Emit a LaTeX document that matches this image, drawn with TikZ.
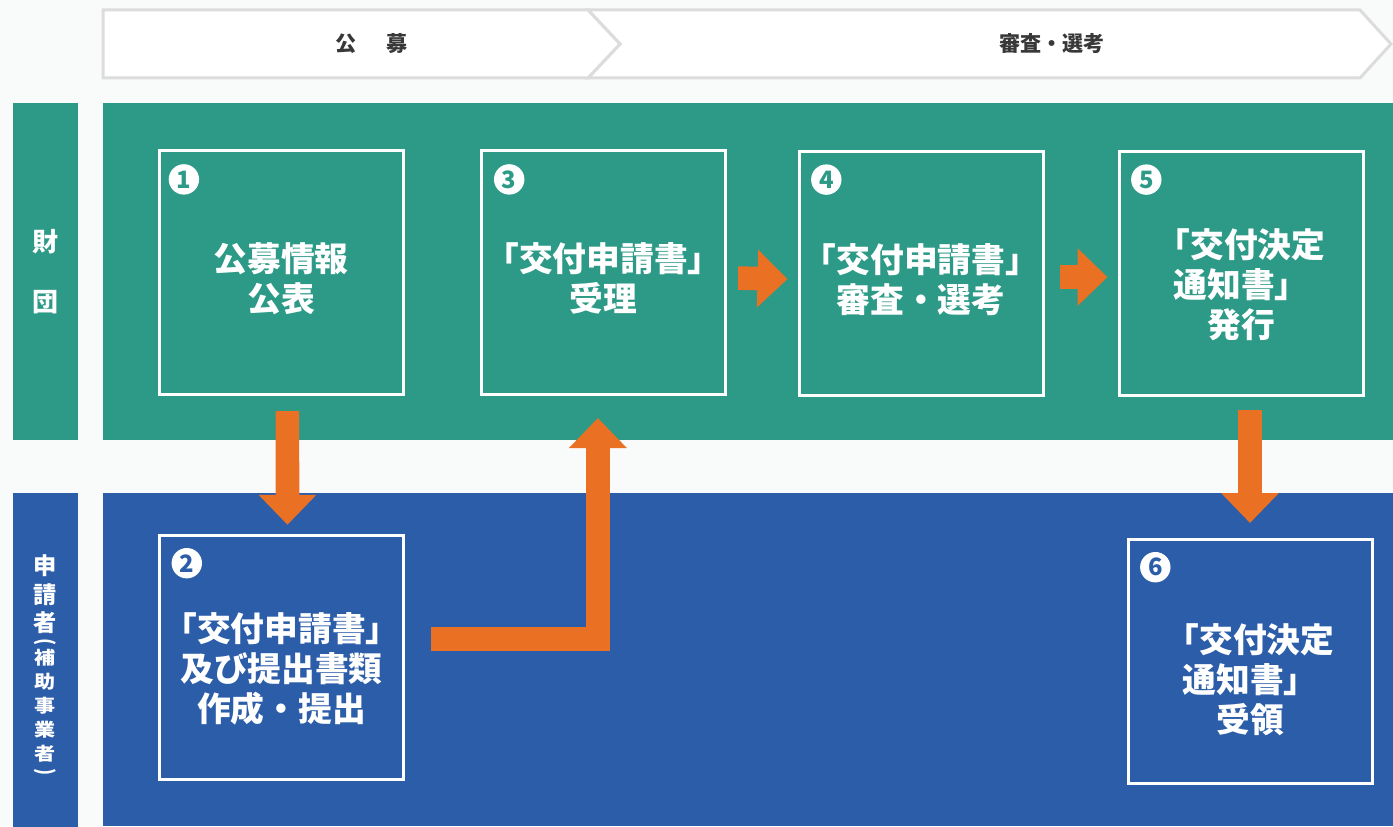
\documentclass[tikz,border=0pt]{standalone}
\usepackage{fontspec}
\newfontfamily\jp{Noto Sans CJK JP}
\usetikzlibrary{arrows.meta}
\definecolor{pagebg}{HTML}{F9FBFB}
\definecolor{zaidan}{HTML}{2C9A87}
\definecolor{shinsei}{HTML}{2C5DA9}
\definecolor{flowor}{HTML}{EA7024}
\definecolor{phasegray}{HTML}{DCDCDC}
\definecolor{phasetext}{HTML}{383838}
\tikzset{
    phaseline/.style = {
        draw=phasegray, fill=white, line width=0.75mm, line join=miter
    },
    phase/.style = {
        text=phasetext, font=\jp\bfseries\fontsize{15}{15}\selectfont, inner sep=0pt
    },
    lane/.style = {
        minimum width=16.25mm, text=white, align=center, inner sep=0pt,
        font=\jp\bfseries\fontsize{18.5}{42.7}\selectfont
    },
    lanetext/.style = {
        text=white, inner sep=0pt, font=\jp\bfseries\fontsize{16.5}{16.5}\selectfont
    },
    lanesmall/.style = {
        text=white, inner sep=0pt, yscale=0.85, font=\jp\bfseries\fontsize{15}{15}\selectfont
    },
    stepbox/.style = {
        draw=white, line width=0.75mm, minimum width=61mm, minimum height=61mm
    },
    steptext/.style = {
        text=white, align=center, inner sep=0pt,
        font=\jp\bfseries\fontsize{24}{28.5}\selectfont
    },
    stepno/.style = {
        circle, fill=white, inner sep=0pt, minimum size=7.6mm,
        font=\jp\bfseries\fontsize{17}{17}\selectfont
    },
    flow/.style = {
        draw=flowor, line width=5.9mm, -{Triangle[width=14mm,length=7.5mm]}
    },
}

\begin{document}
\begin{tikzpicture}[x=0.25mm, y=-0.25mm]
        \useasboundingbox (0,0) rectangle (1393,826);
        \fill[pagebg] (0,0) rectangle (1393,826);

        % Phase header
        \draw[phaseline] (588,10) -- (1360,10) -- (1391,44) -- (1360,78) -- (588,78) -- (620,44) -- cycle;
        \draw[phaseline] (103,10) -- (588,10) -- (620,44) -- (588,78) -- (103,78) -- cycle;
        \node[phase] (koubo) at (372,44) {公\hspace{7.5mm}募};
        \node[phase] (shinsa) at (1052,44) {審査・選考};

        % Lanes
        \fill[zaidan] (103,103) rectangle (1393,440);
        \fill[shinsei] (103,493) rectangle (1393,826);
        \node[lane, fill=zaidan, minimum height=84.25mm] (zaidanlane) at (45.5,271.5) {財\\団};
        \node[lane, fill=shinsei, minimum height=83.5mm] (shinseilane) at (45.5,660) {};
        \foreach \ch/\y [count=\i] in {申/566,請/595,者/623}
            \node[lanetext] (ap\i) at (45.5,\y) {\ch};
        \node[lanesmall, rotate=-90] (apl) at (45.5,642) {(};
        \foreach \ch [count=\i] in {補,助,事,業,者}
            \node[lanesmall] (aps\i) at (45.5, 634+24*\i) {\ch};
        \node[lanesmall, rotate=-90] (apr) at (45.5,772) {)};

        % Steps
        \node[stepbox] (s1) at (281,272.5) {};
        \node[stepbox] (s3) at (603.5,272.5) {};
        \node[stepbox] (s4) at (921,273.5) {};
        \node[stepbox] (s5) at (1241,273.5) {};
        \node[stepbox] (s2) at (281.5,657.5) {};
        \node[stepbox] (s6) at (1250,661.5) {};

        \node[steptext] (s1-txt) at ([yshift=-1.5mm]s1.center) {公募情報\\公表};
        \node[steptext] (s3-txt) at ([yshift=-1.4mm]s3.center) {「交付申請書」\\受理};
        \node[steptext] (s4-txt) at ([yshift=-1.6mm]s4.center) {「交付申請書」\\審査・選考};
        \node[steptext] (s5-txt) at ([yshift=-2.9mm]s5.center) {「交付決定\\通知書」\\発行};
        \node[steptext] (s2-txt) at ([yshift=-2.9mm]s2.center) {「交付申請書」\\及び提出書類\\作成・提出};
        \node[steptext] (s6-txt) at ([yshift=-4.6mm]s6.center) {「交付決定\\通知書」\\受領};

        \node[stepno, text=zaidan] (s1-no) at ([xshift=6.6mm,yshift=-7.6mm]s1.north west) {1};
        \node[stepno, text=zaidan] (s3-no) at ([xshift=7.3mm,yshift=-7.6mm]s3.north west) {3};
        \node[stepno, text=zaidan] (s4-no) at ([xshift=7.2mm,yshift=-7.4mm]s4.north west) {4};
        \node[stepno, text=zaidan] (s5-no) at ([xshift=7.2mm,yshift=-7.4mm]s5.north west) {5};
        \node[stepno, text=shinsei] (s2-no) at ([xshift=7.2mm,yshift=-7.3mm]s2.north west) {2};
        \node[stepno, text=shinsei] (s6-no) at ([xshift=7.2mm,yshift=-7.3mm]s6.north west) {6};

        % Flow arrows
        \draw[flow] ([xshift=1.6mm,yshift=-3.75mm]s1.south) -- ([xshift=1.5mm,yshift=2.3mm]s2.north);
        \draw[flow] ([xshift=6.5mm,yshift=4.7mm]s2.east) -| ([xshift=-1.4mm,yshift=-5.5mm]s3.south);
        \draw[flow] ([xshift=2.75mm,yshift=-1.4mm]s3.east) -- ([xshift=-2.5mm,yshift=-1.4mm]s4.west);
        \draw[flow] ([xshift=3.75mm,yshift=-0.9mm]s4.east) -- ([xshift=-2.5mm,yshift=-0.9mm]s5.west);
        \draw[flow] ([xshift=2.25mm,yshift=-3.25mm]s5.south) -- ([yshift=3.75mm]s6.north);
\end{tikzpicture}
\end{document}
